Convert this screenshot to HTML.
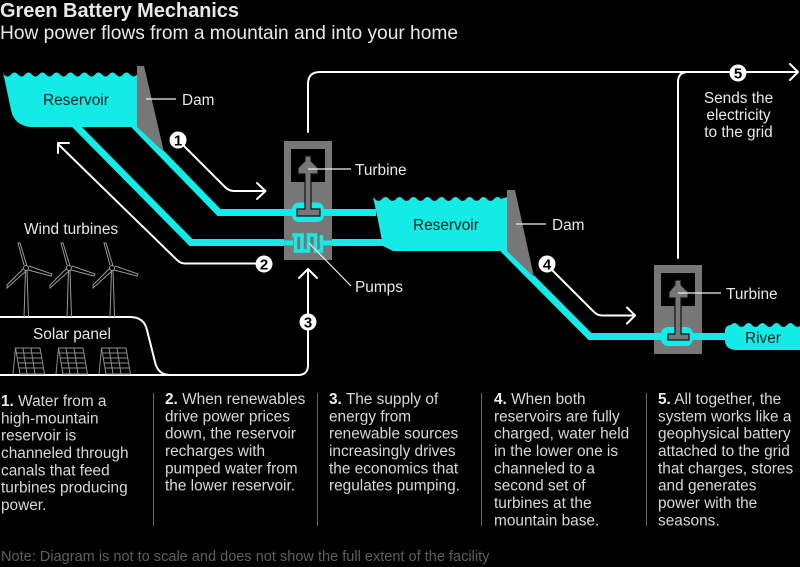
<!DOCTYPE html>
<html><head><meta charset="utf-8"><style>
html,body{margin:0;padding:0;background:#000;width:800px;height:567px;overflow:hidden}
svg{display:block}
text{font-family:"Liberation Sans",Arial,sans-serif;fill:#e8e8e8}
.b{font-size:15.4px;fill:#d8d8d8}
.l{font-size:15.4px;fill:#e8e8e8}
.k{font-size:15.4px;fill:#06201f}
.n{font-size:15px;font-weight:bold;fill:#000;text-anchor:middle}
tspan.h{font-weight:bold;fill:#eee}
</style></head><body>
<svg width="800" height="567" viewBox="0 0 800 567" xmlns="http://www.w3.org/2000/svg">
<rect width="800" height="567" fill="#000"/>
<text x="0" y="17" font-size="20" font-weight="bold" fill="#f0f0f0" textLength="239">Green Battery Mechanics</text>
<text x="0" y="39" font-size="19.200" fill="#e8e8e8" textLength="458">How power flows from a mountain and into your home</text>

<!-- canals -->
<g fill="none" stroke="#12ebe6" stroke-width="7">
<path d="M133,124 L219,212.5 H376"/>
<path d="M74,124 L191,242.5 H388"/>
<path d="M503,249 L590,336.5 H728"/>
</g>
<!-- Reservoir 1 -->
<path fill="#12ebe6" d="M3,72 L4,74.500 q3.500,4 7,0 q3.500,-4 7,0 q3.500,4 7,0 q3.500,-4 7,0 q3.500,4 7,0 q3.500,-4 7,0 q3.500,4 7,0 q3.500,-4 7,0 q3.500,4 7,0 q3.500,-4 7,0 q3.500,4 7,0 q3.500,-4 7,0 q3.500,4 7,0 q3.500,-4 7,0 q3.500,4 7,0 q3.500,-4 7,0 q3.500,4 7,0 q3.500,-4 7,0 q3.500,4 7,0 L137,73 V127 H30 Q14,125 11,110 Z"/>
<path fill="#777" d="M137,66 H144 L164,152 L137,127 Z"/>
<!-- Reservoir 2 -->
<path fill="#12ebe6" d="M373,197 L375,199 q3.500,4 7,0 q3.500,-4 7,0 q3.500,4 7,0 q3.500,-4 7,0 q3.500,4 7,0 q3.500,-4 7,0 q3.500,4 7,0 q3.500,-4 7,0 q3.500,4 7,0 q3.500,-4 7,0 q3.500,4 7,0 q3.500,-4 7,0 q3.500,4 7,0 q3.500,-4 7,0 q3.500,4 7,0 q3.500,-4 7,0 q3.500,4 7,0 q3.500,-4 7,0 L507,197 V251 H393 L383,246 L377,215 Z"/>
<path fill="#777" d="M507,190 H515 L534,277 L507,251 Z"/>
<!-- River -->
<path fill="#12ebe6" d="M725,330 Q726,325 731,325 q3.500,-4 7,0 q3.500,4 7,0 q3.500,-4 7,0 q3.500,4 7,0 q3.500,-4 7,0 q3.500,4 7,0 q3.500,-4 7,0 q3.500,4 7,0 q3.500,-4 7,0 q3.500,4 7,0 V350 H737 Q725,350 725,340 Z"/>

<!-- Turbine 1 -->
<rect x="284" y="141" width="48" height="119" fill="#777"/>
<rect x="291" y="149" width="34" height="33" fill="#000"/>
<path d="M284,212.5 H332" stroke="#12ebe6" stroke-width="7"/>
<path d="M284,243 H293 M323,243 H332" stroke="#12ebe6" stroke-width="5"/>
<rect x="292" y="202.500" width="32" height="19.500" rx="7" fill="#12ebe6"/>
<path fill="#777" stroke="#111" stroke-width="1.200" d="M305,156 H311 V161 L318,168 V174 H311 V209 H320 V216 H297 V209 H305 V174 H298 V168 L305,161 Z"/>
<path fill="none" stroke="#12ebe6" stroke-width="3.500" d="M292,235 H302 V251 H295.500 V235 M302,251 H308.500 V235 H315.500 V251 H321.500 V235"/>
<!-- Turbine 2 -->
<rect x="654" y="265" width="48" height="89" fill="#777"/>
<rect x="661" y="273" width="34" height="33" fill="#000"/>
<path d="M654,336.5 H702" stroke="#12ebe6" stroke-width="7"/>
<rect x="661" y="327" width="32" height="19" rx="7" fill="#12ebe6"/>
<path fill="#777" stroke="#111" stroke-width="1.200" d="M675,280 H681 V285 L688,292 V298 H681 V334 H689 V340 H668 V334 H675 V298 H669 V292 L675,285 Z"/>

<!-- Leaders -->
<g stroke="#f0f0f0" stroke-width="1.200" fill="none">
<path d="M146,99 H176"/>
<path d="M516,224 H546"/>
<path d="M308,169 H351"/>
<path d="M678,293 H721"/>
<path d="M309,243 L351,286"/>
</g>

<!-- Flow arrows -->
<g stroke="#fff" stroke-width="2" fill="none" stroke-linecap="round" stroke-linejoin="round">
<path d="M178,140 L225,187 Q229,191 234,191 H265 M257,183 L265.500,191 L257,199"/>
<path d="M58,144 L176,259 Q180,263.500 185,263.500 H264 M58,153 V143 H69"/>
<path d="M0,375 H298 Q308,375 308,365 V270 M299,278 L308,269 L317,278"/>
<path d="M0,317 H130 Q144,317 147,330 L155,362 Q158,375 170,375"/>
<path d="M308,132 V84 Q308,72 320,72 H798 M790,64 L798,72 L790,80"/>
<path d="M678,258 V82 Q678,72 688,72"/>
<path d="M547,265 L593,311 Q597,315.500 602,315.500 H635 M627,307.500 L635,315.500 L627,323.500"/>
</g>
<g fill="#fff">
<circle cx="178" cy="140" r="8.500"/><circle cx="264" cy="264" r="8.500"/><circle cx="308" cy="322" r="8.500"/><circle cx="547" cy="264" r="8.500"/><circle cx="738" cy="73" r="8.500"/>
</g>
<text class="n" x="178" y="145.500">1</text><text class="n" x="264" y="269.500">2</text><text class="n" x="308" y="327.500">3</text><text class="n" x="547" y="269.500">4</text><text class="n" x="738" y="78.500">5</text>

<!-- Wind turbines -->
<defs><g id="wt" fill="none" stroke="#999" stroke-width="1">
<path d="M24,317 L25.500,270 M28.500,317 L27,270"/>
<path d="M24,265 L18,243 L20,243 L27,266"/>
<path d="M29,266 L52,274 L51,276 L28,270"/>
<path d="M24,268 L7,285 L7,288 L26,271"/>
<circle cx="26" cy="268" r="2.500"/>
</g>
<g id="sp" fill="none" stroke="#8c8c8c" stroke-width="1">
<path d="M15.500,348 H40 L44.500,374 H20 Z"/>
<path d="M16,353 H41 M17,358 H42 M18,363 H43 M19,368 H44"/>
<path d="M23,348 L27,374 M31,348 L35,374"/>
<path d="M15.500,348 L13,374"/>
</g></defs>
<use href="#wt"/><use href="#wt" x="43"/><use href="#wt" x="86"/>
<use href="#sp"/><use href="#sp" x="43"/><use href="#sp" x="86"/>

<!-- Labels -->
<text class="k" x="43" y="105">Reservoir</text>
<text class="l" x="182" y="105">Dam</text>
<text class="l" x="355" y="175">Turbine</text>
<text class="k" x="413" y="230">Reservoir</text>
<text class="l" x="552" y="230">Dam</text>
<text class="l" x="355" y="292">Pumps</text>
<text class="l" x="726" y="299">Turbine</text>
<text class="k" x="745" y="343">River</text>
<text class="l" x="24" y="234">Wind turbines</text>
<text class="l" x="33" y="339">Solar panel</text>
<text class="l" x="738.500" y="103" text-anchor="middle">Sends the</text>
<text class="l" x="738.500" y="120" text-anchor="middle">electricity</text>
<text class="l" x="738.500" y="137" text-anchor="middle">to the grid</text>

<!-- Dividers -->
<g stroke="#666" stroke-width="1"><path d="M153.500,393 V526 M317.500,393 V526 M481.500,393 V526 M646.500,393 V526"/></g>

<!-- Body -->
<g class="b">
<text class="b" x="1" y="406"><tspan class="h">1.</tspan> Water from a</text>
<text class="b" x="1" y="423.300">high-mountain</text>
<text class="b" x="1" y="440.600">reservoir is</text>
<text class="b" x="1" y="458">channeled through</text>
<text class="b" x="1" y="475.300">canals that feed</text>
<text class="b" x="1" y="492.600">turbines producing</text>
<text class="b" x="1" y="510">power.</text>

<text class="b" x="165" y="404"><tspan class="h">2.</tspan> When renewables</text>
<text class="b" x="165" y="421.300">drive power prices</text>
<text class="b" x="165" y="438.600">down, the reservoir</text>
<text class="b" x="165" y="456">recharges with</text>
<text class="b" x="165" y="473.300">pumped water from</text>
<text class="b" x="165" y="490.600">the lower reservoir.</text>

<text class="b" x="329" y="404"><tspan class="h">3.</tspan> The supply of</text>
<text class="b" x="329" y="421.300">energy from</text>
<text class="b" x="329" y="438.600">renewable sources</text>
<text class="b" x="329" y="456">increasingly drives</text>
<text class="b" x="329" y="473.300">the economics that</text>
<text class="b" x="329" y="490.600">regulates pumping.</text>

<text class="b" x="494" y="404"><tspan class="h">4.</tspan> When both</text>
<text class="b" x="494" y="421.300">reservoirs are fully</text>
<text class="b" x="494" y="438.600">charged, water held</text>
<text class="b" x="494" y="456">in the lower one is</text>
<text class="b" x="494" y="473.300">channeled to a</text>
<text class="b" x="494" y="490.600">second set of</text>
<text class="b" x="494" y="508">turbines at the</text>
<text class="b" x="494" y="525.300">mountain base.</text>

<text class="b" x="658" y="404"><tspan class="h">5.</tspan> All together, the</text>
<text class="b" x="658" y="421.300">system works like a</text>
<text class="b" x="658" y="438.600">geophysical battery</text>
<text class="b" x="658" y="456">attached to the grid</text>
<text class="b" x="658" y="473.300">that charges, stores</text>
<text class="b" x="658" y="490.600">and generates</text>
<text class="b" x="658" y="508">power with the</text>
<text class="b" x="658" y="525.300">seasons.</text>
</g>
<text x="1" y="561" font-size="14.550" style="fill:#5f5f5f">Note: Diagram is not to scale and does not show the full extent of the facility</text>
</svg>
</body></html>
